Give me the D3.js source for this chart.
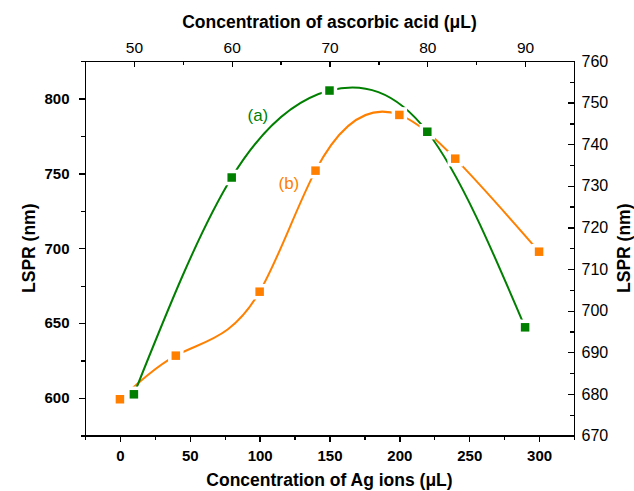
<!DOCTYPE html>
<html>
<head>
<meta charset="utf-8">
<script src="https://cdn.jsdelivr.net/npm/d3@7"></script>
<style>
  html, body { margin: 0; padding: 0; background: #fff; }
  svg { display: block; font-family: "Liberation Sans", Arial, sans-serif; }
  .axis path, .axis line { stroke: #000; stroke-width: 1.3; shape-rendering: crispEdges; }
</style>
</head>
<body>
<svg id="chart" width="634" height="491"></svg>
<script>
// ---- data ----
const agIons = [0, 40, 100, 140, 200, 240, 300];            // bottom axis (µL)
const lsprB  = [599.2, 628.3, 671.0, 751.8, 789.0, 759.8, 697.7]; // left axis (nm)
const ascorbic = [50, 60, 70, 80, 90];                       // top axis (µL)
const lsprA  = [679.9, 732.0, 752.9, 743.0, 696.0];          // right axis (nm)

const bottomTicks = [0, 50, 100, 150, 200, 250, 300];
const bottomMinor = [-25, 25, 75, 125, 175, 225, 275, 325];
const leftTicks = [600, 650, 700, 750, 800];
const leftMinor = [575, 625, 675, 725, 775, 825];
const topTicks = [50, 60, 70, 80, 90];
const topMinor = [45, 55, 65, 75, 85, 95];
const rightTicks = [670, 680, 690, 700, 710, 720, 730, 740, 750, 760];
const rightMinor = [675, 685, 695, 705, 715, 725, 735, 745, 755];

const colA = "#007f00", colB = "#ff8000";

const L = 85, R = 574, T = 61, B = 435.5;
const svg = d3.select("#chart");

const xB = d3.scaleLinear().domain([-25, 325]).range([L, R]);
const xT = d3.scaleLinear().domain([45, 95]).range([L, R]);
const yL = d3.scaleLinear().domain([575, 825]).range([B, T]);
const yR = d3.scaleLinear().domain([670, 760]).range([B, T]);

// custom d3 curve: natural cubic spline y(x) (as Origin's "Spline" connection)
function curveSplineX(context) {
  let xs = [], ys = [];
  return {
    areaStart() {}, areaEnd() {},
    lineStart() { xs = []; ys = []; },
    point(x, y) { xs.push(+x); ys.push(+y); },
    lineEnd() {
      const n = xs.length - 1;
      if (n < 1) return;
      const h = [], M = new Array(n + 1).fill(0);
      for (let i = 0; i < n; i++) h.push(xs[i + 1] - xs[i]);
      if (n > 1) {
        const a = [], b = [], c = [], d = [];
        for (let i = 1; i < n; i++) {
          a.push(h[i - 1]); b.push(2 * (h[i - 1] + h[i])); c.push(h[i]);
          d.push(6 * ((ys[i + 1] - ys[i]) / h[i] - (ys[i] - ys[i - 1]) / h[i - 1]));
        }
        const m = b.length;
        for (let i = 1; i < m; i++) {
          const w = a[i] / b[i - 1];
          b[i] -= w * c[i - 1]; d[i] -= w * d[i - 1];
        }
        const sol = new Array(m);
        sol[m - 1] = d[m - 1] / b[m - 1];
        for (let i = m - 2; i >= 0; i--) sol[i] = (d[i] - c[i] * sol[i + 1]) / b[i];
        for (let i = 1; i < n; i++) M[i] = sol[i - 1];
      }
      const slope = [];
      for (let i = 0; i < n; i++)
        slope.push((ys[i + 1] - ys[i]) / h[i] - h[i] * (2 * M[i] + M[i + 1]) / 6);
      slope.push((ys[n] - ys[n - 1]) / h[n - 1] + h[n - 1] * (M[n - 1] + 2 * M[n]) / 6);
      context.moveTo(xs[0], ys[0]);
      for (let i = 0; i < n; i++) {
        const k = h[i] / 3;
        context.bezierCurveTo(xs[i] + k, ys[i] + slope[i] * k,
                              xs[i + 1] - k, ys[i + 1] - slope[i + 1] * k,
                              xs[i + 1], ys[i + 1]);
      }
    }
  };
}

function styleText(g, size, weight) {
  g.selectAll("text").attr("font-size", size).attr("font-weight", weight)
   .attr("fill", "#000").attr("font-family", "'Liberation Sans', Arial, sans-serif");
}

// bottom axis
const gB = svg.append("g").attr("class", "axis").attr("transform", `translate(0,${B})`);
gB.call(d3.axisBottom(xB).tickValues(bottomTicks).tickSize(6).tickSizeOuter(0).tickPadding(9));
styleText(gB, 15, "bold");
svg.append("g").attr("class", "axis").attr("transform", `translate(0,${B})`)
  .call(d3.axisBottom(xB).tickValues(bottomMinor).tickSize(4).tickSizeOuter(0).tickFormat(""));

// left axis
const gL = svg.append("g").attr("class", "axis").attr("transform", `translate(${L},0)`);
gL.call(d3.axisLeft(yL).tickValues(leftTicks).tickSize(6).tickSizeOuter(0).tickPadding(9.5));
styleText(gL, 15, "bold");
svg.append("g").attr("class", "axis").attr("transform", `translate(${L},0)`)
  .call(d3.axisLeft(yL).tickValues(leftMinor).tickSize(4).tickSizeOuter(0).tickFormat(""));

// top axis (ticks inward)
const gT = svg.append("g").attr("class", "axis").attr("transform", `translate(0,${T})`);
gT.call(d3.axisTop(xT).tickValues(topTicks).tickSize(-6).tickSizeOuter(0).tickPadding(8));
styleText(gT, 15.5, "normal");
svg.append("g").attr("class", "axis").attr("transform", `translate(0,${T})`)
  .call(d3.axisTop(xT).tickValues(topMinor).tickSize(-4).tickSizeOuter(0).tickFormat(""));

// right axis (ticks inward)
const gR = svg.append("g").attr("class", "axis").attr("transform", `translate(${R},0)`);
gR.call(d3.axisRight(yR).tickValues(rightTicks).tickSize(-6).tickSizeOuter(0).tickPadding(7.5));
styleText(gR, 16, "normal");
svg.append("g").attr("class", "axis").attr("transform", `translate(${R},0)`)
  .call(d3.axisRight(yR).tickValues(rightMinor).tickSize(-4).tickSizeOuter(0).tickFormat(""));

// axis titles
svg.append("text").attr("x", (L + R) / 2).attr("y", 28).attr("text-anchor", "middle")
  .attr("font-size", 17.5).attr("font-weight", "bold").text("Concentration of ascorbic acid (\u03bcL)");
svg.append("text").attr("x", (L + R) / 2).attr("y", 486).attr("text-anchor", "middle")
  .attr("font-size", 17.5).attr("font-weight", "bold").text("Concentration of Ag ions (\u03bcL)");
svg.append("text").attr("transform", `translate(35,${(T + B) / 2}) rotate(-90)`)
  .attr("text-anchor", "middle").attr("font-size", 17.5).attr("font-weight", "bold").text("LSPR (nm)");
svg.append("text").attr("transform", `translate(630,${(T + B) / 2}) rotate(-90)`)
  .attr("text-anchor", "middle").attr("font-size", 17.5).attr("font-weight", "bold").text("LSPR (nm)");

// curves
const dataA = ascorbic.map((x, i) => ({ x, y: lsprA[i] }));
const dataB = agIons.map((x, i) => ({ x, y: lsprB[i] }));

const lineA = d3.line().x(d => xT(d.x)).y(d => yR(d.y)).curve(curveSplineX);
const lineB = d3.line().x(d => xB(d.x)).y(d => yL(d.y)).curve(curveSplineX);

svg.append("path").datum(dataB).attr("d", lineB).attr("fill", "none")
  .attr("stroke", colB).attr("stroke-width", 2);
svg.append("path").datum(dataA).attr("d", lineA).attr("fill", "none")
  .attr("stroke", colA).attr("stroke-width", 2);

const ms = 8.5, halo = 3.5;
function halos(data, xs, ys) {
  svg.append("g").selectAll("rect").data(data).join("rect")
    .attr("x", d => xs(d.x) - ms / 2 - halo).attr("y", d => ys(d.y) - ms / 2 - halo)
    .attr("width", ms + 2 * halo).attr("height", ms + 2 * halo).attr("fill", "#fff");
}
function marks(data, xs, ys, col) {
  svg.append("g").selectAll("rect").data(data).join("rect")
    .attr("x", d => xs(d.x) - ms / 2).attr("y", d => ys(d.y) - ms / 2)
    .attr("width", ms).attr("height", ms).attr("fill", col);
}
halos(dataB, xB, yL);
halos(dataA, xT, yR);
marks(dataB, xB, yL, colB);
marks(dataA, xT, yR, colA);

// series labels
svg.append("text").attr("x", 247.5).attr("y", 120.5).attr("font-size", 17)
  .attr("fill", colA).text("(a)");
svg.append("text").attr("x", 278.5).attr("y", 188.5).attr("font-size", 17)
  .attr("fill", colB).text("(b)");
</script>
</body>
</html>
